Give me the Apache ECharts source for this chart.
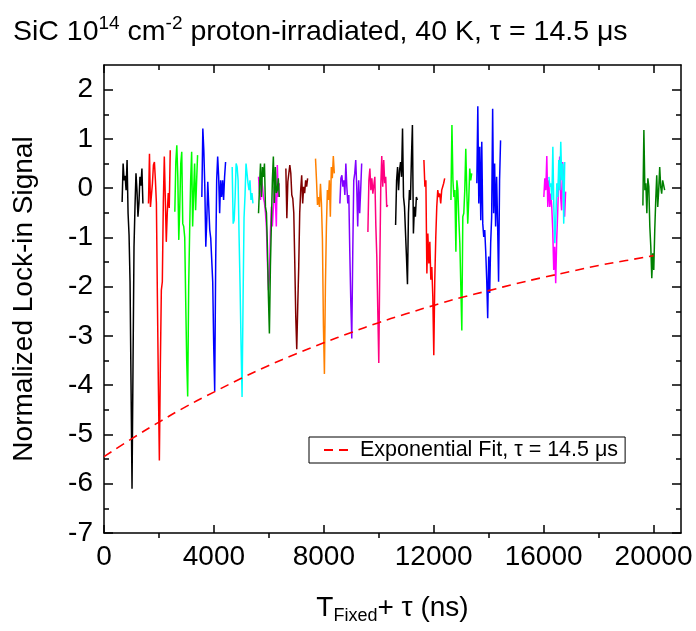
<!DOCTYPE html>
<html>
<head>
<meta charset="utf-8">
<title>SiC lock-in signal</title>
<script src="https://cdn.jsdelivr.net/npm/echarts@6/dist/echarts.min.js"></script>
<style>
  html, body { margin: 0; padding: 0; background: #fff; }
  #chart { width: 696px; height: 631px; }
</style>
</head>
<body>
<div id="chart"></div>
<script>
// sampling step of every sweep (ns)
var dt = 36;

// time of the first sample of each sweep (ns)
var sweepStarts = [660, 1619, 2578, 3561, 4665, 5624, 5624, 6619, 7698, 8586,
                   9605, 10613, 11643, 12627, 13569, 16008, 16192, 19613];

// normalized lock-in signal of each sweep
var sweep1  = [-0.28, 0.50, 0.16, 0.25, -0.04, 0.57, -0.51, -0.95, -1.9, -4.0, -6.1, -3.6, -1.2, -0.38, 0.30, -0.05, -0.58, -0.30, 0.23, 0.05, 0.40, -0.31];
var sweep2  = [-0.31, 0.70, -0.38, -0.41, 0.10, 0.47, 0.53, 0.16, -0.3, -2.2, -4.0, -5.53, -3.6, -2.07, -1.9, -0.3, 0.64, -0.2, -1.09, -0.5, -0.1, -0.4, 0.77];
var sweep3  = [-0.48, 0.53, 0.87, 0.23, -1.05, -0.38, 0.5, 0.74, -0.72, -0.78, -1.0, -2.3, -3.5, -4.23, -2.0, -0.85, 0.16, 0.74, -0.78, -0.1, 0.5, -0.45, 0.13, 0.67];
var sweep4  = [-0.18, 1.21, 0.77, 0.03, -1.19, -0.65, 0.13, -0.38, -0.85, -1.02, -1.05, -1.9, -3.2, -4.12, -1.5, 0.16, 0.64, 0.23, -0.51, 0.16, -0.18, 0.16, -0.24, 0.23, 0.53];
var sweep5  = [0.43, -0.72, -0.65, -0.18, 0.5, 0.43, 0.16, -1.0, -2.0, -3.2, -4.24, -2.3, -0.6, -0.14, 0.5, 0.53, 0.1, -0.04, 0.16, -0.24, -0.1, -0.31];
var sweep6  = [0.23, -0.1, -0.24, 0.16, 0.03, -0.2, -0.3, -0.5, -0.8, -1.5, -2.07, -1.8, -0.9, -0.38, -0.78, -0.4, 0.03, -0.2, -0.78, 0.47, -0.18, 0.1];
var sweep7  = [-0.51, 0.03, 0.5, -0.18, 0.43, 0.23, 0.5, -0.38, -0.5, -1.2, -2.2, -2.95, -1.6, -0.72, 0.16, 0.64, -0.3, 0.43, -0.1, -0.04, 0.2, -0.18];
var sweep8  = [0.4, -0.61, 0.13, 0.1, 0.47, 0.3, -0.14, -0.21, -0.5, -1.5, -2.6, -3.27, -2.4, -1.6, -0.51, -0.04, 0.26, -0.31, 0.03, -0.1, 0.16, 0.03, 0.2];
var sweep9  = [0.6, 0.16, -0.34, -0.18, -0.38, 0.09, -0.31, -1.05, -2.8, -3.77, -2.0, -0.8, -0.04, -0.24, 0.16, -0.58, 0.43, 0.2, 0.65, 0.3];
var sweep10 = [-0.31, 0.2, 0.26, 0.03, 0.16, -0.14, 0.5, 0.03, -0.31, -0.14, -1.3, -2.3, -3.05, -1.3, 0.16, 0.3, 0.57, 0.03, -0.78, 0.16, -0.51, -0.04, 0.5];
var sweep11 = [-0.89, 0.16, 0.4, -0.04, 0.2, -0.11, 0.06, 0.23, -0.75, -1.4, -2.5, -3.55, -1.6, 0.03, 0.65, 0.03, 0.57, 0.1, 0.23, -0.38, -0.34];
var sweep12 = [-0.75, 0.16, 0.43, -0.04, 0.36, 0.53, 0.23, 1.21, -0.18, -0.38, -0.9, -1.4, -1.95, -0.51, -0.04, -0.24, 0.6, 1.28, -0.92, -0.38, -0.58, -0.18, -0.24];
var sweep13 = [0.57, 0.03, 0.16, -1.73, -0.92, -1.53, -1.09, -1.86, -1.6, -2.2, -3.39, -1.86, -1.0, -0.38, -0.04, -0.18, -0.11, -0.31, -0.04, 0.03, 0.1, 0.2];
var sweep14 = [-0.24, 1.28, 0.16, -0.18, -0.04, -1.29, 0.16, -0.04, -0.65, -1.12, -2.0, -2.89, -0.58, -0.51, -0.04, 0.8, -0.04, -0.72, -0.24, 0.4, 0.16, 0.3];
var sweep15 = [0.1, 1.66, -0.31, 0.84, -0.65, 0.94, -0.72, -0.99, -0.85, -1.29, -1.86, -2.64, -1.39, -2.13, -1.12, -0.58, 1.61, -0.51, 0.5, -0.78, 0.23, -0.72, -1.9, 0.16, 0.97];
var sweep16 = [-0.18, 0.2, -0.04, 0.65, -0.38, 0.16, -0.38, -0.11, -0.38, -0.85, -1.66, -1.19, -1.93, -1.05, -0.51, 0.16, 0.64, -0.18, -0.45, 0.53, 0.16, -0.58, -0.07];
var sweep17 = [0.23, 0.03, 0.1, -0.24, 0.84, -0.38, -1.12, -0.65, 0.1, -0.18, 0.57, -0.04, 0.94, 0.16, 0.5, -0.72, 0.53];
var sweep18 = [-0.35, 1.18, -0.04, 0.1, -0.51, 0.2, 0.03, -0.78, -1.19, -1.83, -1.32, -1.66, -0.85, -0.24, 0.26, -0.38, -0.04, 0.43, 0.03, -0.11, 0.16, 0.2, -0.04];

var sweeps = [sweep1, sweep2, sweep3, sweep4, sweep5, sweep6, sweep7, sweep8, sweep9,
              sweep10, sweep11, sweep12, sweep13, sweep14, sweep15, sweep16, sweep17, sweep18];

// exponential fit
var fitTimes  = [0, 1000, 2000, 3000, 4000, 5000, 6000, 7000, 8000, 9000, 10000,
                 11000, 12000, 13000, 14000, 15000, 16000, 17000, 18000, 19000, 20000];
var fitValues = [-5.45, -5.09, -4.75, -4.43, -4.14, -3.86, -3.60, -3.36, -3.14, -2.93, -2.73,
                 -2.55, -2.38, -2.22, -2.08, -1.94, -1.81, -1.69, -1.57, -1.47, -1.37];

// tick positions
var xMajor = [0, 4000, 8000, 12000, 16000, 20000];
var xMinor = [2000, 6000, 10000, 14000, 18000];
var yMajor = [-7, -6, -5, -4, -3, -2, -1, 0, 1, 2];
var yMinor = [-6.5, -5.5, -4.5, -3.5, -2.5, -1.5, -0.5, 0.5, 1.5];

var sweepColors = ['#000000', '#FF0000', '#00FF00', '#0000FF', '#00FFFF', '#FF00FF', '#008000',
                   '#800000', '#FF8000', '#8000FF', '#FF0080', '#000000', '#FF0000', '#00FF00',
                   '#0000FF', '#FF00FF', '#00FFFF', '#008000'];

var font = "'Liberation Sans', Arial, sans-serif";
var axisColor = '#000';
var lineStyleAxis = { color: axisColor, width: 1.5 };
var fitName = 'Exponential Fit, \u03C4 = 14.5 \u03BCs';

var myChart = echarts.init(document.getElementById('chart'));

// build the series
var series = [];
for (var i = 0; i < sweeps.length; i++) {
    var pts = [];
    for (var j = 0; j < sweeps[i].length; j++) {
        pts.push([sweepStarts[i] + j * dt, sweeps[i][j]]);
    }
    series.push({
        type: 'line',
        xAxisIndex: 0,
        yAxisIndex: 0,
        data: pts,
        symbol: 'none',
        silent: true,
        lineStyle: { color: sweepColors[i], width: 1.5 },
        z: 2
    });
}

var fitData = [];
for (var k = 0; k < fitTimes.length; k++) {
    fitData.push([fitTimes[k], fitValues[k]]);
}
series.push({
    name: fitName,
    type: 'line',
    xAxisIndex: 0,
    yAxisIndex: 0,
    data: fitData,
    smooth: true,
    symbol: 'none',
    silent: true,
    itemStyle: { color: '#FF0000' },
    lineStyle: { color: '#FF0000', width: 1.6, type: [9, 6] },
    z: 3
});

function xAxisDef(grid, pos, ticks, tickLen, inside, showLine, labels) {
    return {
        type: 'value', gridIndex: grid, position: pos, min: 0, max: 21000,
        axisLine: { show: showLine, onZero: false, lineStyle: lineStyleAxis },
        axisTick: { show: true, inside: inside, length: tickLen, customValues: ticks, lineStyle: lineStyleAxis },
        axisLabel: labels ? {
            customValues: xMajor, margin: 10, fontSize: 28, color: '#000', fontFamily: font,
            formatter: function (v) { return String(v); }
        } : { show: false },
        splitLine: { show: false }
    };
}
function yAxisDef(grid, pos, ticks, tickLen, showLine, labels) {
    return {
        type: 'value', gridIndex: grid, position: pos, min: -7, max: 2.5,
        axisLine: { show: showLine, onZero: false, lineStyle: lineStyleAxis },
        axisTick: { show: true, inside: true, length: tickLen, customValues: ticks, lineStyle: lineStyleAxis },
        axisLabel: labels ? {
            customValues: yMajor, margin: 11, fontSize: 28, color: '#000', fontFamily: font,
            formatter: function (v) { return String(v); }
        } : { show: false },
        splitLine: { show: false }
    };
}

var xMain = xAxisDef(0, 'bottom', xMajor, 8, true, true, true);
xMain.name = 'T{sub|Fixed}+ \u03C4 (ns)';
xMain.nameLocation = 'middle';
xMain.nameGap = 58;
xMain.nameTextStyle = {
    fontSize: 28, color: '#000', fontFamily: font,
    rich: { sub: { fontSize: 18, fontFamily: font, color: '#000', padding: [16, 0, 0, 0] } }
};

var yMain = yAxisDef(0, 'left', yMajor, 9, true, true);
yMain.name = 'Normalized Lock-in Signal';
yMain.nameLocation = 'middle';
yMain.nameGap = 66;
yMain.nameTextStyle = { fontSize: 28, color: '#000', fontFamily: font };

var option = {
    backgroundColor: '#fff',
    animation: false,
    title: {
        text: 'SiC 10{sup|14} cm{sup|-2} proton-irradiated, 40 K, \u03C4 = 14.5 \u03BCs',
        left: 8,
        top: 9,
        textStyle: {
            fontSize: 28.5, fontWeight: 'normal', color: '#000', fontFamily: font,
            rich: { sup: { fontSize: 19, fontFamily: font, color: '#000', padding: [0, 0, 17, 0] } }
        }
    },
    legend: {
        data: [{ name: fitName, itemStyle: { opacity: 0 } }],
        left: 309,
        top: 437,
        orient: 'horizontal',
        padding: [2, 7, 2, 14],
        borderColor: '#000',
        borderWidth: 1,
        itemWidth: 25,
        itemHeight: 10,
        selectedMode: false,
        textStyle: { fontSize: 21.5, color: '#000', fontFamily: font, padding: [0, 0, 0, 6] }
    },
    grid: [
        { left: 104, right: 15, top: 65, bottom: 98 },
        { left: 104, right: 15, top: 65, bottom: 98 }
    ],
    xAxis: [
        xMain,
        xAxisDef(0, 'top', xMajor, 8, true, true, false),
        xAxisDef(1, 'bottom', xMinor, 5, false, false, false),
        xAxisDef(1, 'top', xMinor, 5, true, false, false)
    ],
    yAxis: [
        yMain,
        yAxisDef(0, 'right', yMajor, 9, true, false),
        yAxisDef(1, 'left', yMinor, 5, false, false),
        yAxisDef(1, 'right', yMinor, 5, false, false)
    ],
    series: series
};

myChart.setOption(option);

window.onresize = function() {
    myChart.resize();
};
</script>
</body>
</html>
